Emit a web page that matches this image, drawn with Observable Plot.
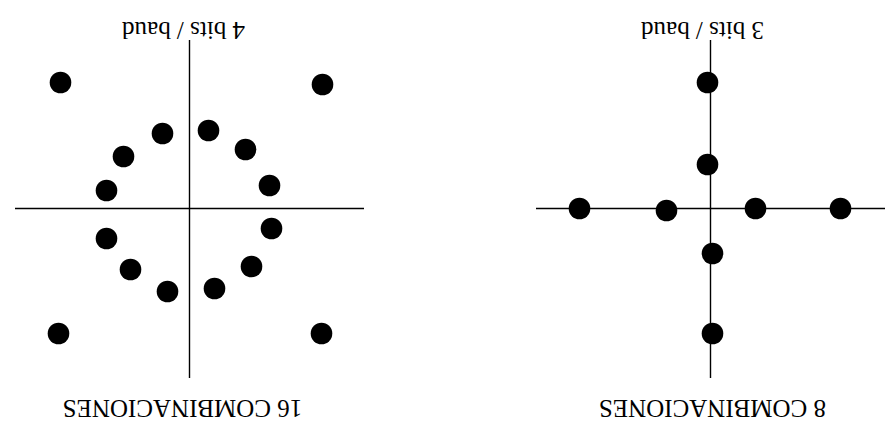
<!DOCTYPE html>
<html>
<head>
<meta charset="utf-8">
<script src="https://cdn.jsdelivr.net/npm/d3@7"></script>
<script src="https://cdn.jsdelivr.net/npm/@observablehq/plot@0.6"></script>
<style>
  html, body { margin: 0; padding: 0; background: #fff; }
  #wrap { position: relative; width: 890px; height: 439px; overflow: hidden; }
  #wrap > div { position: absolute; top: 0; }
</style>
</head>
<body>
<div id="wrap"><div id="left"></div><div id="right"></div></div>
<script>
// 16-point constellation (display orientation: picture is rotated 180°)
const qam16X = [-12.9, 13.3, -2.7, 1.9, -6.6, 5.6, -8.3, 8.0, -8.3, 8.2, -5.9, 6.2, -2.2, 2.5, -13.1, 13.2];
const qam16Y = [12.6, 12.4, 7.5, 7.8, 5.2, 5.9, 1.8, 2.3, -3.0, -2.0, -6.1, -5.8, -8.3, -8.0, -12.5, -12.5];
// 8-point constellation
const qam8X = [-0.3, -0.3, -13.1, -4.4, 4.5, 13.0, 0.2, 0.2];
const qam8Y = [12.6, 4.4, 0, -0.2, 0, 0, -4.5, -12.5];
// labels
const topLabels = ["4 bits / baud", "3 bits / baud"];
const bottomLabels = ["16 COMBINACIONES", "8 COMBINACIONES"];
const topLabelX = [-0.6, -0.8];
const bottomLabelX = [-0.7, 0.2];

const FONT = "'Liberation Serif', 'DejaVu Serif', serif";

function panel(xs, ys, i, xDomain) {
  const pts = xs.map((x, k) => ({x, y: ys[k]}));
  const labels = [
    {x: topLabelX[i], y: 17.9, t: topLabels[i]},
    {x: bottomLabelX[i], y: -19.95, t: bottomLabels[i]}
  ];
  return Plot.plot({
    width: 445, height: 439,
    marginTop: 0, marginBottom: 0, marginLeft: 0, marginRight: 0,
    x: {domain: xDomain, axis: null},
    y: {domain: [-23.1, 20.8], axis: null},
    style: {background: "transparent", fontFamily: FONT},
    marks: [
      Plot.ruleY([0], {x1: -17.4, x2: 17.5, stroke: "#000", strokeWidth: 1.4}),
      Plot.ruleX([0], {y1: -17.0, y2: 16.8, stroke: "#000", strokeWidth: 1.4}),
      Plot.dot(pts, {x: "x", y: "y", r: 10.8, fill: "#000", stroke: "none"}),
      Plot.text(labels, {x: "x", y: "y", text: "t", rotate: 180, fontSize: 25,
        fill: "#000", textAnchor: "middle", lineAnchor: "middle", fontFamily: FONT})
    ]
  });
}

const L = panel(qam16X, qam16Y, 0, [-18.9, 25.6]);
const R = panel(qam8X, qam8Y, 1, [-26.5, 18.0]);
const l = document.getElementById("left"); l.style.left = "0px"; l.appendChild(L);
const r = document.getElementById("right"); r.style.left = "445px"; r.appendChild(R);
</script>
</body>
</html>
